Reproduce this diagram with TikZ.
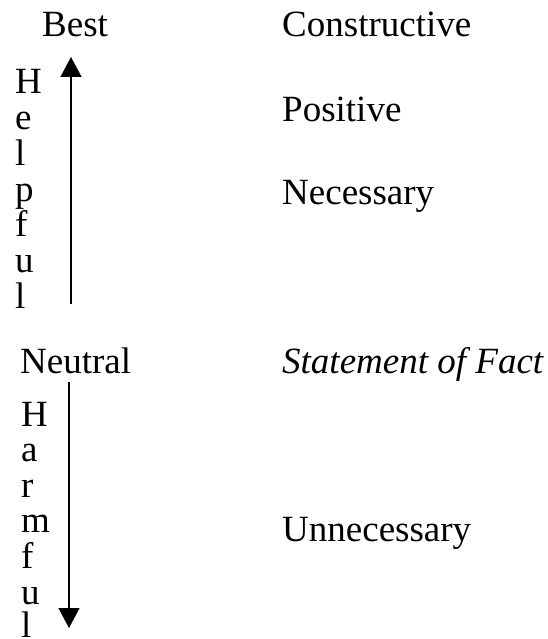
\documentclass[tikz,border=0pt]{standalone}
\usepackage{fontspec}
\setmainfont{Liberation Serif}
\usetikzlibrary{arrows.meta}
\tikzset{
  lbl/.style={anchor=base west,inner sep=0pt,font=\fontsize{37}{44}\selectfont},
  letter/.style={lbl},
  axisarr/.style={-{Triangle[width=21pt,length=20pt]},draw=black,line width=1.4pt}
}

\begin{document}
\begin{tikzpicture}[x=1pt,y=-1pt]
\useasboundingbox (0,0) rectangle (548,639);
\node[lbl] (best) at (42,37) {Best};
\node[letter] (help1) at (15,94) {H};
\node[letter] (help2) at (15,129.7) {e};
\node[letter] (help3) at (15,165.4) {l};
\node[letter] (help4) at (15,201.1) {p};
\node[letter] (help5) at (15,236.8) {f};
\node[letter] (help6) at (15,272.5) {u};
\node[letter] (help7) at (15,308.2) {l};
\coordinate (upTail) at (71,304);
\coordinate (upTip) at (71,57);
\draw[axisarr] (upTail) -- (upTip);
\node[lbl] (neutral) at (20,373) {Neutral};
\node[letter] (harm1) at (21,426) {H};
\node[letter] (harm2) at (21,461.6) {a};
\node[letter] (harm3) at (21,497.2) {r};
\node[letter] (harm4) at (21,532.8) {m};
\node[letter] (harm5) at (21,568.4) {f};
\node[letter] (harm6) at (21,604) {u};
\node[letter] (harm7) at (21,637.5) {l};
\coordinate (downTail) at (69,382);
\coordinate (downTip) at (69,628);
\draw[axisarr] (downTail) -- (downTip);
\node[lbl] (constructive) at (282,37) {Constructive};
\node[lbl] (positive) at (282,122) {Positive};
\node[lbl] (necessary) at (282,204) {Necessary};
\node[lbl,font=\fontsize{37}{44}\selectfont\itshape] (fact) at (282,373) {Statement of Fact};
\node[lbl] (unnecessary) at (282,541) {Unnecessary};
\end{tikzpicture}
\end{document}
